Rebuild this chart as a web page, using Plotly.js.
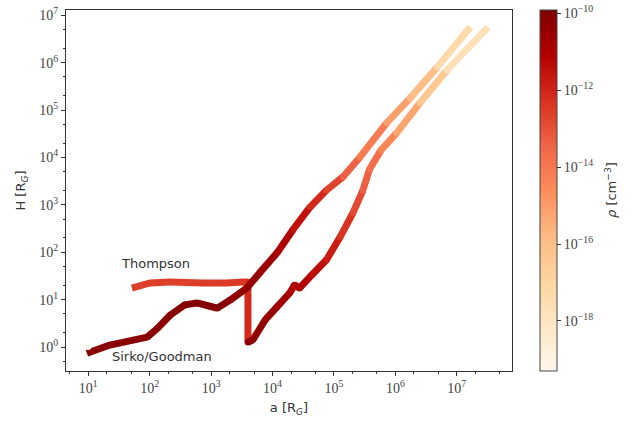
<!DOCTYPE html>
<html>
<head>
<meta charset="utf-8">
<script src="https://cdn.plot.ly/plotly-3.0.1.min.js"></script>
<style>html,body{margin:0;padding:0;background:#fff;}#chart{width:631px;height:424px;}</style>
</head>
<body>
<div id="chart"></div>
<script>
// Sirko/Goodman disc model: radius a [R_G], scale height H [R_G], log10 density
const sirkoA = [9.5, 22.4, 91.2, 135, 214, 372, 589, 955, 1259, 2042, 3802, 6310, 11750, 21380, 40740, 75860, 141250, 263030, 724440, 1737800, 4786300, 16595900];
const sirkoH = [0.74, 1.10, 1.62, 2.51, 4.68, 7.76, 8.51, 7.24, 6.61, 9.77, 17.4, 38.0, 95.5, 295, 891, 2042, 3890, 10000, 53700, 177800, 794300, 5623400];
const sirkoLogRho = [-10.2, -10.2, -10.2, -10.2, -10.1, -10.0, -10.0, -10.0, -10.1, -10.3, -10.4, -10.6, -11.0, -11.5, -12.1, -12.7, -13.4, -14.1, -15.1, -15.9, -17.3, -18.8];

// Thompson disc model
const thompA = [51.3, 100, 214, 741, 1778, 3311, 3981, 3981, 3981, 4786, 7586, 11750, 19050, 22910, 27540, 43650, 75860, 125900, 204200, 295100, 380200, 588800, 1047100, 2511900, 6918300, 32359400];
const thompH = [17.4, 22.4, 23.4, 22.4, 22.4, 23.4, 23.4, 12.0, 1.26, 1.41, 3.72, 6.92, 13.8, 20.4, 17.4, 33.1, 69.2, 208.9, 676, 2000, 5623, 14450, 32360, 141250, 691800, 5623400];
const thompLogRho = [-12.6, -12.6, -12.6, -12.5, -12.5, -12.4, -12.3, -12.1, -10.3, -10.3, -10.5, -10.7, -11.0, -11.0, -11.1, -11.4, -11.8, -12.3, -12.8, -13.3, -13.7, -14.4, -15.2, -16.4, -17.7, -19.0];

// Colour bar limits (log10 of density) and tick labels
const rhoMin = -19.3, rhoMax = -9.92;
const cbTickVals = [-18, -16, -14, -12, -10];
const cbTickText = ['10<sup>\u221218</sup>', '10<sup>\u221216</sup>', '10<sup>\u221214</sup>', '10<sup>\u221212</sup>', '10<sup>\u221210</sup>'];

const xTickVals = [10, 100, 1e3, 1e4, 1e5, 1e6, 1e7];
const xTickText = ['10<sup>1</sup>', '10<sup>2</sup>', '10<sup>3</sup>', '10<sup>4</sup>', '10<sup>5</sup>', '10<sup>6</sup>', '10<sup>7</sup>'];
const yTickVals = [1, 10, 100, 1e3, 1e4, 1e5, 1e6, 1e7];
const yTickText = ['10<sup>0</sup>', '10<sup>1</sup>', '10<sup>2</sup>', '10<sup>3</sup>', '10<sup>4</sup>', '10<sup>5</sup>', '10<sup>6</sup>', '10<sup>7</sup>'];

// OrRd sequential map
const orrd = ['#fff7ec', '#fee8c8', '#fdd49e', '#fdbb84', '#fc8d59', '#ef6548', '#d7301f', '#b30000', '#7f0000'];
const colorscale = orrd.map((c, i) => [i / (orrd.length - 1), c]);

function hexToRgb(h) {
  return [parseInt(h.slice(1, 3), 16), parseInt(h.slice(3, 5), 16), parseInt(h.slice(5, 7), 16)];
}
function mapColor(v) {
  let t = (v - rhoMin) / (rhoMax - rhoMin);
  t = Math.max(0, Math.min(1, t));
  const pos = t * (orrd.length - 1);
  const i = Math.min(Math.floor(pos), orrd.length - 2);
  const f = pos - i;
  const a = hexToRgb(orrd[i]), b = hexToRgb(orrd[i + 1]);
  const c = a.map((x, k) => Math.round(x + (b[k] - x) * f));
  return 'rgb(' + c.join(',') + ')';
}

// One line piece per pair of samples, coloured by the density at its start;
// small square caps at the inner samples close the gaps at the joints.
function segments(xs, ys, rho) {
  const out = [];
  for (let i = 0; i < xs.length - 1; i++) {
    out.push({
      type: 'scatter', mode: 'lines',
      x: [xs[i], xs[i + 1]], y: [ys[i], ys[i + 1]],
      line: {color: mapColor(rho[i]), width: 7},
      showlegend: false, hoverinfo: 'skip'
    });
  }
  out.push({
    type: 'scatter', mode: 'markers',
    x: xs.slice(1, -1), y: ys.slice(1, -1),
    marker: {symbol: 'circle', size: 6.5, color: rho.slice(1, -1).map(mapColor), line: {width: 0}},
    showlegend: false, hoverinfo: 'skip'
  });
  return out;
}

const traces = [].concat(
  segments(thompA, thompH, thompLogRho),
  segments(sirkoA, sirkoH, sirkoLogRho)
);

// Carrier for the colour bar
traces.push({
  type: 'scatter', mode: 'markers', x: [10], y: [1],
  marker: {
    size: 0, color: [rhoMin], colorscale: colorscale, cmin: rhoMin, cmax: rhoMax,
    showscale: true,
    colorbar: {
      x: 1.063, xanchor: 'left', y: 0.5, yanchor: 'middle',
      len: 1, lenmode: 'fraction', thickness: 17,
      outlinewidth: 1, outlinecolor: '#444',
      tickvals: cbTickVals, ticktext: cbTickText,
      ticks: 'outside', ticklen: 4, tickcolor: '#333',
      tickfont: {family: 'Liberation Serif', size: 14, color: '#444'},
      xpad: 0, ypad: 0
    }
  },
  showlegend: false, hoverinfo: 'skip'
});

const axisCommon = {
  type: 'log', showgrid: false, zeroline: false,
  showline: true, mirror: true, linecolor: '#333', linewidth: 1,
  ticks: 'outside', ticklen: 4, tickcolor: '#333',
  tickfont: {family: 'Liberation Serif', size: 14, color: '#444'},
  minor: {ticks: 'outside', ticklen: 2, tickcolor: '#333', showgrid: false}
};

const layout = {
  width: 631, height: 424,
  margin: {l: 66, r: 119, t: 10, b: 53},
  paper_bgcolor: '#fff', plot_bgcolor: '#fff',
  xaxis: Object.assign({}, axisCommon, {
    range: [0.637, 7.90], tickvals: xTickVals, ticktext: xTickText,
    title: {text: 'a [R<sub><i>G</i></sub>]', font: {family: 'DejaVu Sans', size: 13, color: '#333'}, standoff: 8}
  }),
  yaxis: Object.assign({}, axisCommon, {
    range: [-0.506, 7.11], tickvals: yTickVals, ticktext: yTickText,
    title: {text: 'H [R<sub><i>G</i></sub>]', font: {family: 'DejaVu Sans', size: 13, color: '#333'}, standoff: 10}
  }),
  annotations: [
    {x: 2.09, y: 1.77, xref: 'x', yref: 'y', text: 'Thompson', showarrow: false,
     font: {family: 'DejaVu Sans', size: 13, color: '#333'}},
    {x: 2.2, y: -0.21, xref: 'x', yref: 'y', text: 'Sirko/Goodman', showarrow: false,
     font: {family: 'DejaVu Sans', size: 13, color: '#333'}},
    {x: 0, y: 0, xref: 'paper', yref: 'paper', text: '<i>\u03c1</i> [cm<sup>\u22123</sup>]', showarrow: false,
     textangle: -90, font: {family: 'DejaVu Sans', size: 13, color: '#333'}}
  ]
};
// colour bar title placed in pixel terms, converted to paper fractions
layout.annotations[2].x = (621 - 66) / (631 - 66 - 119);
layout.annotations[2].y = (424 - 53 - 190) / (424 - 10 - 53);

Plotly.newPlot('chart', traces, layout, {displayModeBar: false, staticPlot: true});
</script>
</body>
</html>
